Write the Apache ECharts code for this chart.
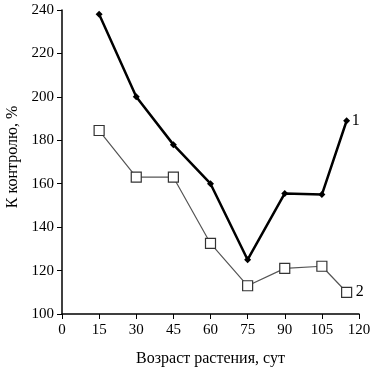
<!DOCTYPE html>
<html><head><meta charset="utf-8">
<script src="https://cdn.jsdelivr.net/npm/echarts@6/dist/echarts.min.js"></script>
<style>html,body{margin:0;padding:0;background:#fff}#c{width:382px;height:368px}</style>
</head><body><div id="c"></div>
<script>
const ages = [15, 30, 45, 60, 75, 90, 105, 115];
const series1 = [238, 200, 178, 160, 125, 155.5, 155, 189];
const series2 = [184.5, 163, 163, 132.5, 113, 121, 122, 110];
const seriesLabels = ['1', '2'];
const xTitle = 'Возраст растения, сут';
const yTitle = 'К контролю, %';

const font = 'Liberation Serif';
const chart = echarts.init(document.getElementById('c'));
function pairs(v){ return ages.map((a,i)=>[a, v[i]]); }
function endLabel(txt, d){
  return { show: true, formatter: txt, color: '#000', fontFamily: font, fontSize: 16, distance: d };
}
chart.setOption({
  animation: false,
  grid: { left: 62, right: 23, top: 10, bottom: 54, containLabel: false, outerBoundsMode: 'none' },
  xAxis: {
    type: 'value', min: 0, max: 120, interval: 15,
    name: xTitle, nameLocation: 'middle', nameGap: 37,
    nameTextStyle: { fontFamily: font, fontSize: 16, color: '#000' },
    axisLine: { lineStyle: { color: '#000', width: 1.5 } },
    axisTick: { show: true, inside: false, length: 5, lineStyle: { color: '#000' } },
    axisLabel: { fontFamily: font, fontSize: 15, color: '#000', margin: 9 },
    splitLine: { show: false }
  },
  yAxis: {
    type: 'value', min: 100, max: 240, interval: 20,
    name: yTitle, nameLocation: 'middle', nameGap: 41, nameRotate: 90,
    nameTextStyle: { fontFamily: font, fontSize: 16, color: '#000', padding: [0, 0, 0, 10] },
    axisLine: { show: true, lineStyle: { color: '#000', width: 1.5 } },
    axisTick: { show: true, inside: false, length: 5, lineStyle: { color: '#000' } },
    axisLabel: { fontFamily: font, fontSize: 15, color: '#000', margin: 8 },
    splitLine: { show: false }
  },
  series: [
    {
      type: 'line', data: pairs(series1), smooth: false,
      symbol: 'diamond', symbolSize: 7,
      lineStyle: { color: '#000', width: 2.5 },
      itemStyle: { color: '#000' },
      endLabel: endLabel(seriesLabels[0], 5), z: 3
    },
    {
      type: 'line', data: pairs(series2),
      symbol: 'rect', symbolSize: 10,
      lineStyle: { color: '#555', width: 1.2 },
      itemStyle: { color: '#fff', borderColor: '#333', borderWidth: 1.2 },
      endLabel: endLabel(seriesLabels[1], 9), z: 2
    }
  ]
});
</script></body></html>
